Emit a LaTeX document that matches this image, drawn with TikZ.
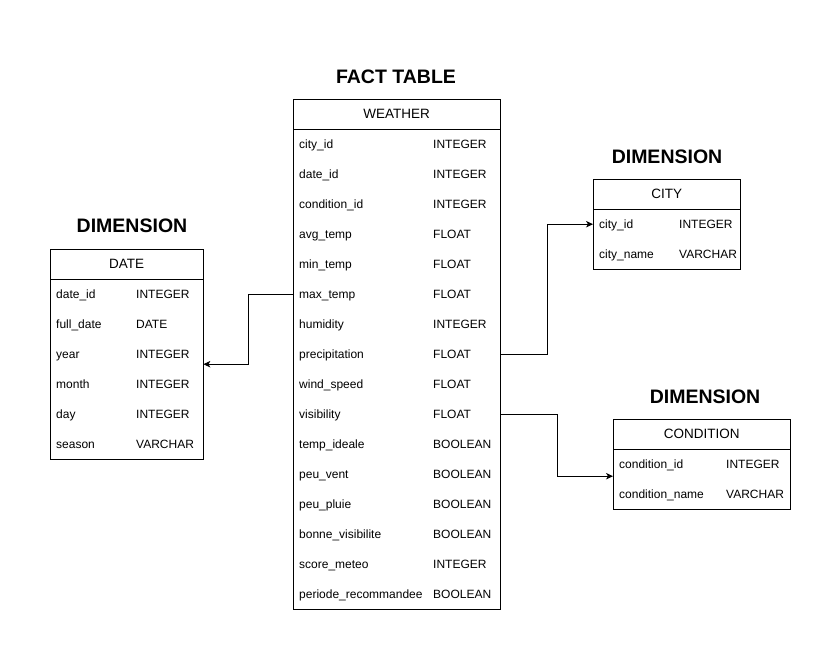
\documentclass[tikz,border=0pt]{standalone}
\usepackage{fontspec}
\setmainfont{Liberation Sans}
\usetikzlibrary{positioning,arrows.meta}

\begin{document}
\begin{tikzpicture}[x=1pt,y=-1pt,
    title/.style={font=\fontsize{19.5}{22}\selectfont\bfseries},
    head/.style={draw,minimum height=30pt,inner sep=0pt,anchor=north west,
      text height=10pt,text depth=1.5pt,
      font=\fontsize{13.5}{16}\selectfont},
    row/.style={minimum height=30pt,inner sep=0pt,anchor=north west},
    field/.style={anchor=west,inner sep=0pt,text height=8.8pt,text depth=2.6pt,
      yshift=-1.5pt,font=\fontsize{12}{14}\selectfont},
    link/.style={-{Stealth[length=7pt,width=6.5pt,inset=2pt]},line width=0.8pt}]
    %% Star schema

    \useasboundingbox (0,0) rectangle (840,669);

    % Fact table
    \node[title] (facttitle) at (396,77) {FACT TABLE};
    \node[head,minimum width=207pt] (weather) at (293,99) {WEATHER};
    \foreach \n/\t [count=\i] in {city\_id/INTEGER,date\_id/INTEGER,
        condition\_id/INTEGER,avg\_temp/FLOAT,min\_temp/FLOAT,max\_temp/FLOAT,
        humidity/INTEGER,precipitation/FLOAT,wind\_speed/FLOAT,visibility/FLOAT,
        temp\_ideale/BOOLEAN,peu\_vent/BOOLEAN,peu\_pluie/BOOLEAN,
        bonne\_visibilite/BOOLEAN,score\_meteo/INTEGER,
        periode\_recommandee/BOOLEAN}{
      \node[row,minimum width=207pt] (w\i) at (293,{99+30*\i}) {};
      \node[field] at ([xshift=6pt]w\i.west) {\n};
      \node[field] at ([xshift=140pt]w\i.west) {\t};
    }
    \draw (weather.north west) rectangle (w16.south east);

    % Date dimension
    \node[title] (datetitle) at (132,226) {DIMENSION};
    \node[head,minimum width=153pt] (date) at (50,249) {DATE};
    \foreach \n/\t [count=\i] in {date\_id/INTEGER,full\_date/DATE,
        year/INTEGER,month/INTEGER,day/INTEGER,season/VARCHAR}{
      \node[row,minimum width=153pt] (d\i) at (50,{249+30*\i}) {};
      \node[field] at ([xshift=6pt]d\i.west) {\n};
      \node[field] at ([xshift=86pt]d\i.west) {\t};
    }
    \draw (date.north west) rectangle (d6.south east);

    % City dimension
    \node[title] (citytitle) at (667,157) {DIMENSION};
    \node[head,minimum width=147pt] (city) at (593,179) {CITY};
    \foreach \n/\t [count=\i] in {city\_id/INTEGER,city\_name/VARCHAR}{
      \node[row,minimum width=147pt] (c\i) at (593,{179+30*\i}) {};
      \node[field] at ([xshift=6pt]c\i.west) {\n};
      \node[field] at ([xshift=86pt]c\i.west) {\t};
    }
    \draw (city.north west) rectangle (c2.south east);

    % Condition dimension
    \node[title] (condtitle) at (705,397) {DIMENSION};
    \node[head,minimum width=177pt] (condition) at (613,419) {CONDITION};
    \foreach \n/\t [count=\i] in {condition\_id/INTEGER,condition\_name/VARCHAR}{
      \node[row,minimum width=177pt] (k\i) at (613,{419+30*\i}) {};
      \node[field] at ([xshift=6pt]k\i.west) {\n};
      \node[field] at ([xshift=113pt]k\i.west) {\t};
    }
    \draw (condition.north west) rectangle (k2.south east);

    % Links
    \draw[link] (w6.west) -- ++(-45,0) |- ([yshift=-10pt]d3.east);
    \draw[link] (w8.east) -- ++(47,0) |- (c1.west);
    \draw[link] (w10.east) -- ++(57,0) |- ([yshift=-12pt]k1.west);

\end{tikzpicture}
\end{document}
